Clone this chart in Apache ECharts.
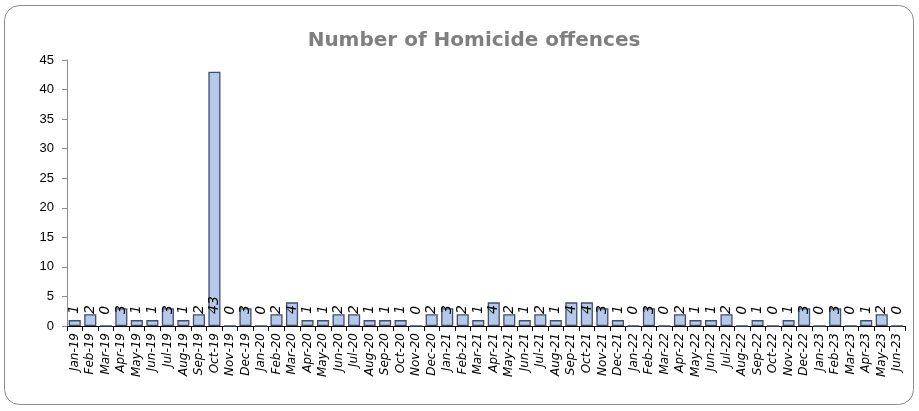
<!DOCTYPE html>
<html><head><meta charset="utf-8">
<script src="https://cdn.jsdelivr.net/npm/echarts@6/dist/echarts.min.js"></script>
<style>html,body{margin:0;padding:0;background:#fff}#c{width:919px;height:411px}</style>
</head><body><div id="c"></div>
<script>
const categories = ["Jan-19","Feb-19","Mar-19","Apr-19","May-19","Jun-19","Jul-19","Aug-19","Sep-19","Oct-19","Nov-19","Dec-19",
"Jan-20","Feb-20","Mar-20","Apr-20","May-20","Jun-20","Jul-20","Aug-20","Sep-20","Oct-20","Nov-20","Dec-20",
"Jan-21","Feb-21","Mar-21","Apr-21","May-21","Jun-21","Jul-21","Aug-21","Sep-21","Oct-21","Nov-21","Dec-21",
"Jan-22","Feb-22","Mar-22","Apr-22","May-22","Jun-22","Jul-22","Aug-22","Sep-22","Oct-22","Nov-22","Dec-22",
"Jan-23","Feb-23","Mar-23","Apr-23","May-23","Jun-23"];
const offences = [1,2,0,3,1,1,3,1,2,43,0,3,
0,2,4,1,1,2,2,1,1,1,0,2,
3,2,1,4,2,1,2,1,4,4,3,1,
0,3,0,2,1,1,2,0,1,0,1,3,
0,3,0,1,2,0];
const yTicks = {min:0, max:45, interval:5};

const chart = echarts.init(document.getElementById('c'));
chart.setOption({
  animation:false,
  graphic:[{type:'rect',shape:{x:4.5,y:5.5,width:909,height:399,r:15},style:{fill:'none',stroke:'#8c8c8c',lineWidth:1}}],
  title:{text:'Number of Homicide offences',left:469,top:26,textAlign:'center',
    textStyle:{fontFamily:'DejaVu Sans',fontSize:20,fontWeight:'bold',color:'#7f7f7f'}},
  grid:{left:67,right:14,top:60,bottom:85,containLabel:false},
  xAxis:{type:'category',data:categories,
    axisLine:{lineStyle:{color:'#000',width:1}},
    axisTick:{show:true,alignWithLabel:false,length:5,lineStyle:{color:'#000'}},
    axisLabel:{rotate:90,interval:0,fontStyle:'italic',fontFamily:'DejaVu Sans',fontSize:12,color:'#000',margin:7}},
  yAxis:{type:'value',min:yTicks.min,max:yTicks.max,interval:yTicks.interval,
    splitLine:{show:false},
    axisLine:{show:true,lineStyle:{color:'#8c8c8c'}},
    axisTick:{show:true,length:5,lineStyle:{color:'#8c8c8c'}},
    axisLabel:{fontFamily:'Liberation Sans, Arial',fontSize:13,color:'#000',margin:13}},
  series:[{type:'bar',data:offences,barCategoryGap:'22%',
    itemStyle:{color:'#b7c9ea',borderColor:'#3f4f6b',borderWidth:1.3},
    label:{show:true,position:'insideBottom',rotate:90,align:'left',verticalAlign:'middle',distance:12,
      fontStyle:'italic',fontFamily:'DejaVu Sans',fontSize:14,color:'#000'}}]
});
</script></body></html>
